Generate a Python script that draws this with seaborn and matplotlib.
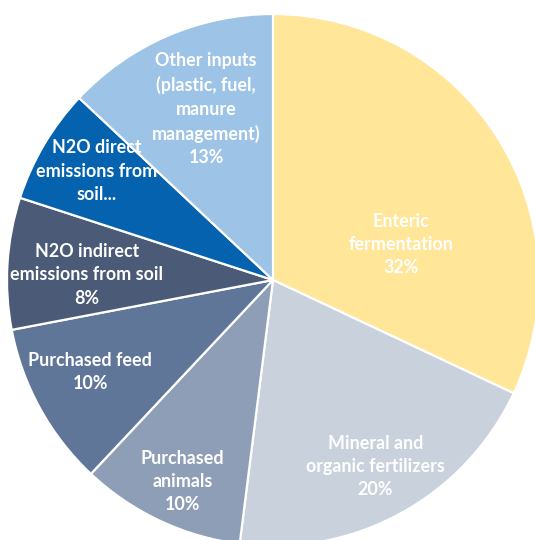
import numpy as np
import matplotlib
matplotlib.use('Agg')
import matplotlib.pyplot as plt
import seaborn as sns

# ==================== DATA ====================
categories = [
    'Enteric\nfermentation',
    'Mineral and\norganic fertilizers',
    'Purchased\nanimals',
    'Purchased feed',
    'N2O indirect\nemissions from soil',
    'N2O direct\nemissions from\nsoil...',
    'Other inputs\n(plastic, fuel,\nmanure\nmanagement)',
]
shares = [32, 20, 10, 10, 8, 7, 13]
show_pct = [True, True, True, True, True, False, True]

colors = ['#FFE699', '#C9D1DD', '#8E9EB6', '#5F7699', '#4A5A77', '#0462AE', '#9DC3E6']

# label placement (fraction of radius, angle shift in degrees)
label_dist = [0.50, 0.80, 0.83, 0.77, 0.70, 0.78, 0.69]
label_shift = [-17, 0, 1, -2, 2, -1, -2]

# ==================== PLOT ====================
sns.set_theme(style='white')
plt.rcParams['font.family'] = ['Lato', 'DejaVu Sans']

W, H = 535, 540
cx, cy, R = 273, 280, 266

fig = plt.figure(figsize=(W / 100, H / 100), dpi=100)
ax = fig.add_axes([0, 0, 1, 1])

wedges, _ = ax.pie(shares, colors=colors, startangle=90, counterclock=False,
                   wedgeprops=dict(edgecolor='white', linewidth=1.6))

for w, lab, pct, show, d, s in zip(wedges, categories, shares, show_pct,
                                   label_dist, label_shift):
    mid = np.deg2rad((w.theta1 + w.theta2) / 2 + s)
    txt = lab + (f'\n{pct}%' if show else '')
    ax.text(d * np.cos(mid), d * np.sin(mid), txt, ha='center', va='center',
            color='white', fontsize=12.9, fontweight='bold', linespacing=1.45)

ax.set_xlim(-cx / R, (W - cx) / R)
ax.set_ylim(-(H - cy) / R, cy / R)
ax.set_aspect('auto')
ax.axis('off')

plt.savefig('out.png', dpi=100)
plt.close()
